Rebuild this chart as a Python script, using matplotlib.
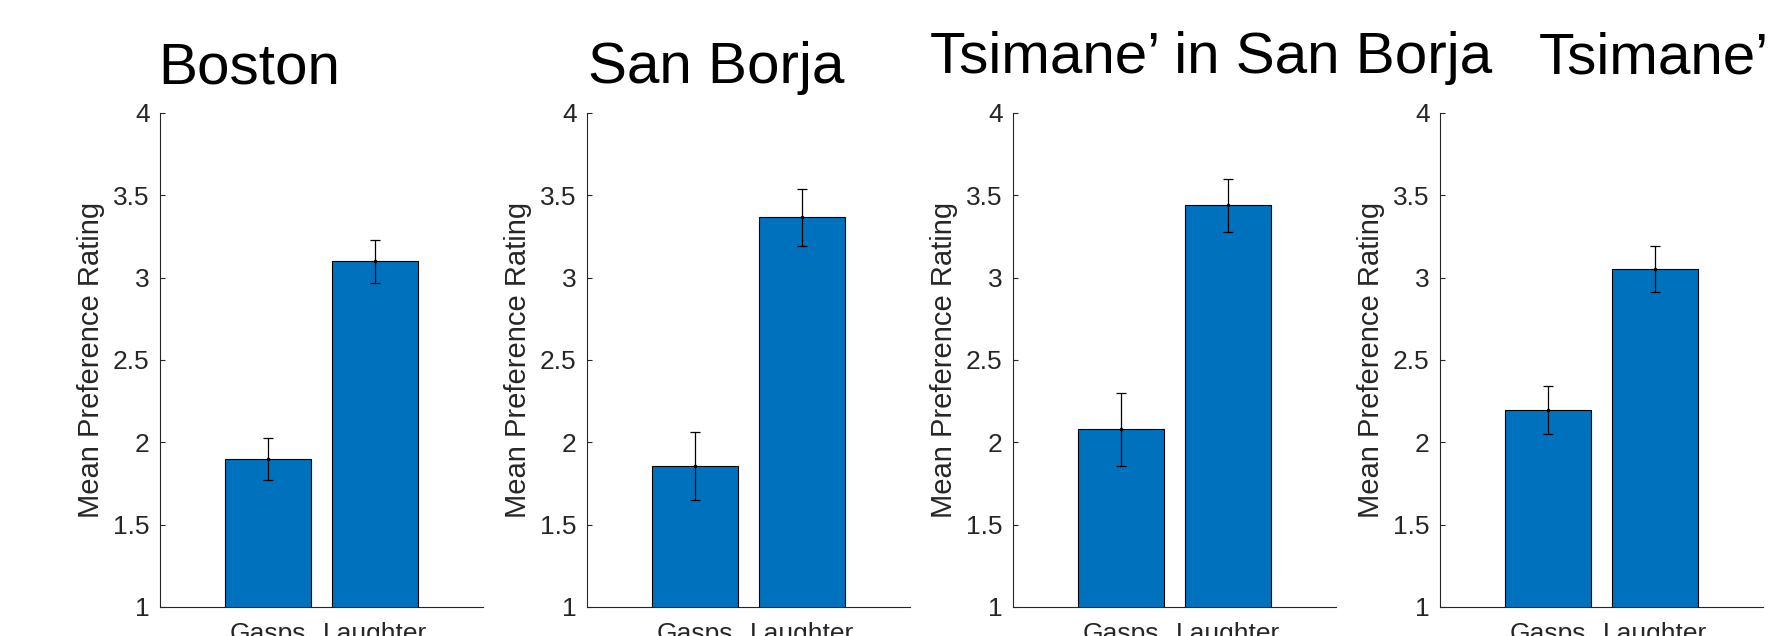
import matplotlib.pyplot as plt
import numpy as np

plt.rcParams['font.family'] = ['Liberation Sans', 'DejaVu Sans']

grupos = ["Boston", "San Borja", "Tsimane’ in San Borja", "Tsimane’"]
categorias = ["Gasps", "Laughter"]
medias = [
    [1.90, 3.10],
    [1.857, 3.367],
    [2.079, 3.439],
    [2.198, 3.053],
]
erros = [
    [0.127, 0.130],
    [0.205, 0.174],
    [0.222, 0.161],
    [0.145, 0.141],
]
yticks = [1, 1.5, 2, 2.5, 3, 3.5, 4]
ytick_labels = ["1", "1.5", "2", "2.5", "3", "3.5", "4"]

W, H = 1768, 636
fig = plt.figure(figsize=(W / 100, H / 100), dpi=100)

azul = "#0072BD"
cinza = "#262626"

# posicao de cada eixo em pixels (esquerda) e posicao dos titulos
esquerdas = [160, 587, 1013, 1440]
larg, topo, base = 323, 113, 607
titulo_x = [158, 588, 930, 1539]
titulo_y = [84, 83, 73, 74]

x = np.arange(1, len(categorias) + 1)

for i, nome in enumerate(grupos):
    ax = fig.add_axes([esquerdas[i] / W, (H - base) / H, larg / W, (base - topo) / H])
    ax.bar(x, medias[i], width=0.8, color=azul, edgecolor="black", linewidth=0.8, zorder=2)
    ax.errorbar(x, medias[i], yerr=erros[i], fmt=".", color="black", markersize=3,
                elinewidth=0.9, capsize=3.9, capthick=0.9, zorder=3)
    ax.set_xlim(0, 3)
    ax.set_ylim(1, 4)
    ax.set_yticks(yticks)
    ax.set_yticklabels(ytick_labels)
    ax.set_xticks(x)
    ax.set_xticklabels(categorias)
    ax.spines["top"].set_visible(False)
    ax.spines["right"].set_visible(False)
    for s in ["left", "bottom"]:
        ax.spines[s].set_color(cinza)
        ax.spines[s].set_linewidth(0.8)
    ax.tick_params(axis="y", direction="in", length=3.8, width=0.8, color=cinza,
                   labelcolor=cinza, labelsize=19, pad=7.5)
    ax.tick_params(axis="x", length=0, labelcolor=cinza, labelsize=19, pad=11)
    ax.set_ylabel("Mean Preference Rating", fontsize=21, color=cinza, labelpad=6)

    fig.text(titulo_x[i] / W, 1 - titulo_y[i] / H, nome, fontsize=42,
             ha="left", va="baseline", color="black")

fig.savefig("out.png", dpi=100)
